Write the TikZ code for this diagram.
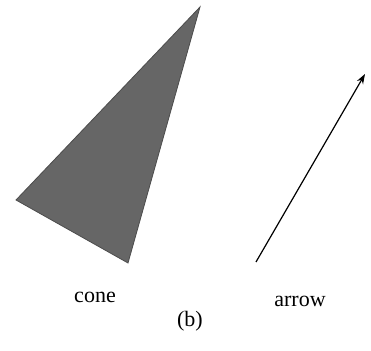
\documentclass[tikz,border=0pt]{standalone}
\usepackage{fontspec}
\setmainfont{Liberation Serif}
\usetikzlibrary{arrows.meta,positioning,calc}

\begin{document}
\begin{tikzpicture}[x=0.5pt,y=-0.5pt,
  conefill/.style={fill=black!60,draw=black!70,line width=0.4pt},
  lbl/.style={font=\fontsize{11}{13}\selectfont,inner sep=0pt},
  >={Stealth[length=5pt,width=3.5pt]}]
\useasboundingbox (0,0) rectangle (371,351);
% cone
\coordinate (top) at (200,7);
\coordinate (left) at (16,200);
\coordinate (bot) at (128,263);
\fill[conefill] (top) -- (left) -- (bot) -- cycle;
% arrow
\coordinate (tail) at (256,262);
\coordinate (head) at (365,74);
\draw[->,line width=0.6pt] (tail) -- (head);
% labels
\node[lbl] (cone) at (95,297) {cone};
\node[lbl] (arr) at (300,301) {arrow};
\node[lbl] (b) at (190,321) {(b)};
\end{tikzpicture}
\end{document}
